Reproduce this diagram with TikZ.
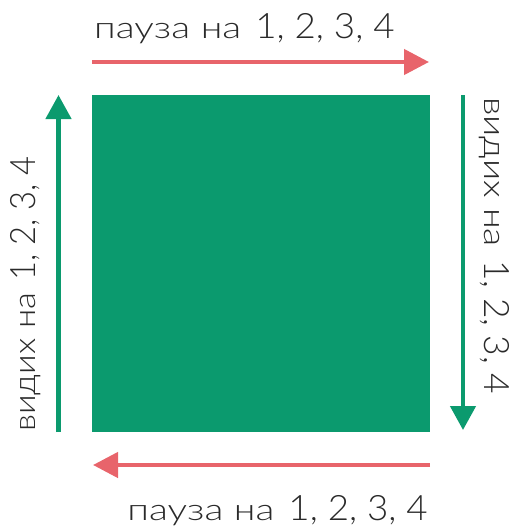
\documentclass[tikz,border=0pt]{standalone}
\usepackage{fontspec}
\setmainfont{Lato Light}
\newfontfamily\lowf{Lato Light}[FakeStretch=1.3]
\newfontfamily\digf{Lato Light}[FakeStretch=1.05]
\usetikzlibrary{arrows.meta}
\definecolor{sqgreen}{HTML}{0B9A6E}
\definecolor{arred}{HTML}{E8646B}
\definecolor{txtcol}{HTML}{2A2A2A}
\newcommand{\lblw}[1]{{\lowf\fontsize{30}{32}\selectfont #1}}
\newcommand{\lbld}[1]{{\digf\fontsize{35}{38}\selectfont #1}}
\newcommand{\fulllbl}[2]{\lblw{#1}\hspace{14pt}\lbld{#2}}
\begin{document}
\begin{tikzpicture}[x=1pt,y=1pt,
  redarrow/.style={draw=arred, line width=4.5pt, -{Triangle[length=25pt,width=25pt]}, arred},
  greenarrow/.style={draw=sqgreen, line width=4.5pt, -{Triangle[length=24pt,width=25pt]}, sqgreen},
  lbl/.style={inner sep=0pt, text=txtcol}]
\useasboundingbox (0,0) rectangle (516,-527);
\node[fill=sqgreen, minimum width=338pt, minimum height=337pt, inner sep=0pt, anchor=north west] (sq) at (92,-95) {};
% top arrow
\coordinate (ta) at (92,-62);
\coordinate (tb) at (429,-62);
\draw[redarrow] (ta) -- (tb);
% bottom arrow
\coordinate (ba) at (430,-465);
\coordinate (bb) at (93,-465);
\draw[redarrow] (ba) -- (bb);
% right arrow
\coordinate (ra) at (463,-95);
\coordinate (rb) at (463,-430);
\draw[greenarrow] (ra) -- (rb);
% left arrow
\coordinate (la) at (58.5,-432);
\coordinate (lb) at (58.5,-95);
\draw[greenarrow] (la) -- (lb);
% labels
\node[lbl, anchor=base west] (ttop) at (94,-38) {\fulllbl{пауза на}{1, 2, 3, 4}};
\node[lbl, anchor=base east] (tbot) at (428,-520) {\fulllbl{пауза на}{1, 2, 3, 4}};
\node[lbl, anchor=base west, rotate=-90] (tright) at (484,-97) {\scalebox{0.96}[1]{\fulllbl{видих на}{1, 2, 3, 4}}};
\node[lbl, anchor=base west, rotate=90] (tleft) at (35,-432) {\scalebox{0.89}[1]{\fulllbl{видих на}{1, 2, 3, 4}}};
\end{tikzpicture}
\end{document}
